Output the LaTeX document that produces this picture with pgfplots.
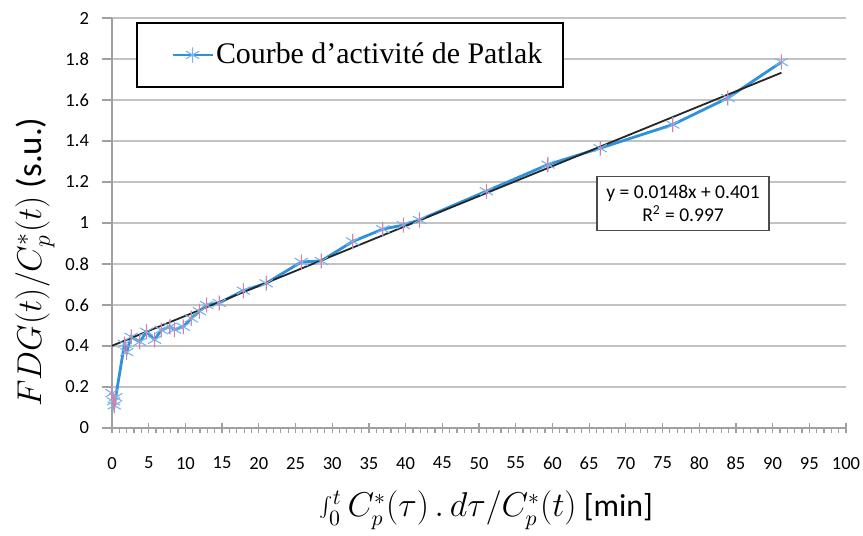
\documentclass[border=0pt]{standalone}
\usepackage{fontspec}
\setmainfont{Carlito}
\newfontfamily\timesfont{Liberation Serif}
\usepackage{pgfplots}
\usepackage{pgfplotstable}
\pgfplotsset{compat=1.18}
\definecolor{serblue}{RGB}{45,145,220}
\definecolor{mkblue}{RGB}{120,180,235}
\definecolor{mkpink}{RGB}{240,120,150}
\definecolor{gridgray}{RGB}{195,195,195}
\definecolor{axgray}{RGB}{160,160,160}

\pgfplotstableread{
x y
0.0 0.17
0.2 0.13
0.3 0.11
0.5 0.15
1.7 0.41
2.0 0.37
2.6 0.445
3.8 0.42
4.7 0.47
5.8 0.43
6.7 0.478
7.9 0.494
8.5 0.48
9.7 0.494
10.8 0.535
11.9 0.57
12.9 0.60
14.6 0.61
17.9 0.67
21.0 0.706
25.8 0.81
28.5 0.815
32.8 0.91
36.9 0.97
39.7 0.99
41.9 1.015
51.0 1.155
59.4 1.285
66.5 1.365
76.4 1.48
83.9 1.61
91.2 1.785
}\patlak

\begin{document}
\begin{tikzpicture}
\useasboundingbox (-56bp,-54bp) rectangle (375.5bp,214bp);
\begin{axis}[
  at={(0,0)}, anchor=south west,
  scale only axis, width=367bp, height=205bp,
  xmin=0, xmax=100, ymin=0, ymax=2,
  axis x line*=bottom, axis y line*=left,
  axis line style={axgray, line width=0.75bp, -},
  xtick={0,5,...,100}, minor x tick num=4,
  ytick={0,0.2,0.4,0.6,0.8,1,1.2,1.4,1.6,1.8,2},
  tick align=outside,
  major tick length=5bp, minor tick length=2.5bp,
  tick style={axgray, line width=0.6bp},
  major x tick style={yshift=2.5bp},
  ymajorgrids,
  grid style={gridgray, line width=0.75bp},
  /pgf/number format/assume math mode=true,
  yticklabel style={/pgf/number format/fixed, /pgf/number format/precision=1},
  tick label style={font=\fontsize{9.3}{10}\selectfont, black},
  xticklabel style={yshift=-6bp},
  yticklabel style={xshift=-3bp},
  xlabel={$\int_0^t C_p^*(\tau)\,.\,d\tau/C_p^*(t)$ [min]},
  ylabel={$FDG(t)/C_p^*(t)$ (s.u.)},
  xlabel style={font=\fontsize{16}{18}\selectfont, at={(axis description cs:0.51,-0.2)}, anchor=center},
  ylabel style={font=\fontsize{17.5}{19}\selectfont, at={(axis description cs:-0.105,0.405)}, anchor=center},
  legend style={at={(rel axis cs:0.033,0.99)}, anchor=north west, draw=black, line width=1bp,
    inner xsep=17bp, inner ysep=8bp, nodes={inner xsep=0pt},
    font=\timesfont\fontsize{15}{18}\selectfont},
  legend cell align=left,
  legend image code/.code={
    \draw[mark repeat=2,mark phase=2,#1] plot coordinates {(0bp,0bp) (10bp,0bp) (20bp,0bp)};
  },
]
\addplot[serblue, line width=1.4bp, mark=asterisk, mark size=3.8bp,
  mark options={mkblue, line width=0.55bp, solid}] table[x=x, y=y] {\patlak};
\addlegendentry{\hspace*{1bp}Courbe d’activité de Patlak\hspace*{-6.5bp}}
\addplot[only marks, mark=|, mark size=3.5bp, mark options={mkpink, line width=0.5bp}, forget plot]
  table[x=x, y=y] {\patlak};
\addplot[black!85, line width=0.9bp, forget plot] coordinates {(0,0.401) (91.2,1.733)};
\node[draw=black!70, line width=0.6bp, fill=white, align=center, font=\fontsize{9.8}{11.5}\selectfont,
  minimum width=86bp, minimum height=27bp, inner sep=1bp] at (axis cs:77.8,1.096)
  {y = 0.0148x + 0.401\\R\textsuperscript{2} = 0.997};
\end{axis}
\end{tikzpicture}
\end{document}
